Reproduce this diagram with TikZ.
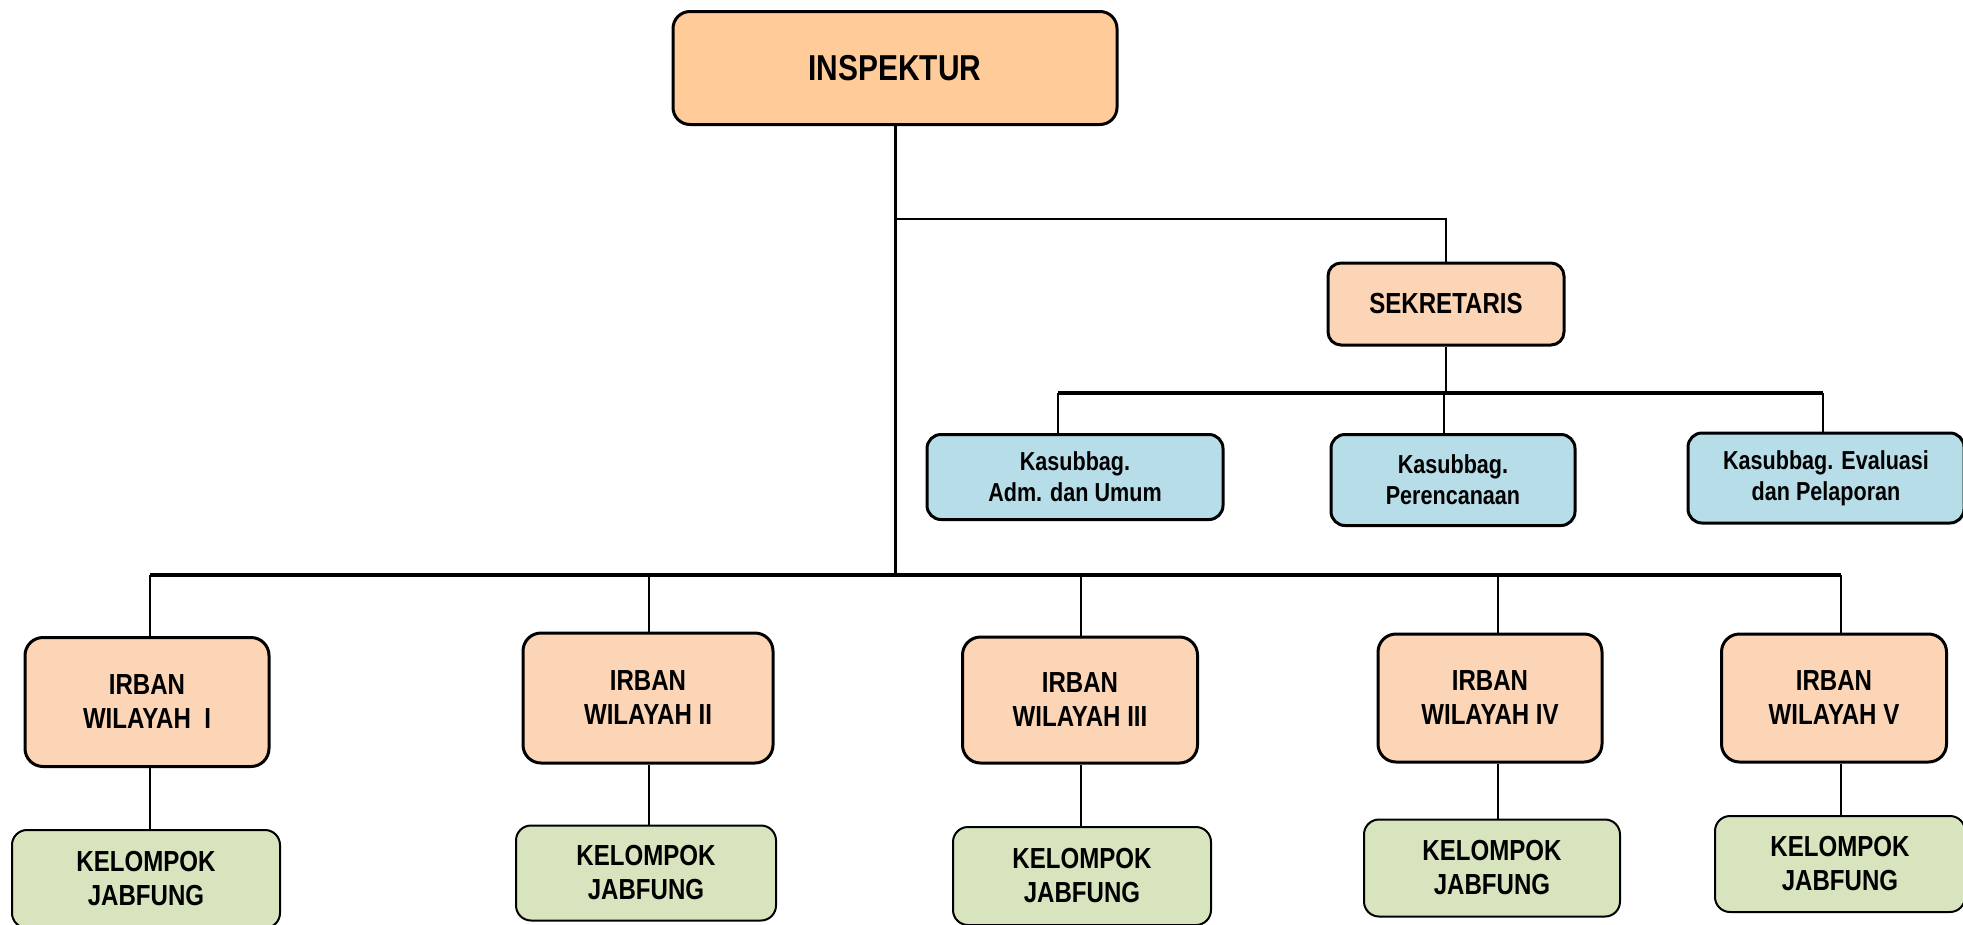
\documentclass[tikz,border=0pt]{standalone}
\usepackage{fontspec}
\setmainfont{Liberation Sans}[FakeStretch=0.83]
\usepackage{tikz}
\definecolor{inspfill}{HTML}{FFCC99}
\definecolor{unitfill}{HTML}{FBD5B5}
\definecolor{subfill}{HTML}{B7DDE8}
\definecolor{groupfill}{HTML}{D7E4BD}

\begin{document}
\begin{tikzpicture}
	[x=1pt,y=-1pt,align=center,
	box/.style={rectangle,draw,line width=3pt,inner sep=0pt},
	chief/.style={box,fill=inspfill,rounded corners=17pt,font=\bfseries\fontsize{36}{40}\selectfont},
	unit/.style={box,fill=unitfill,rounded corners=18pt,font=\bfseries\fontsize{29}{34}\selectfont},
	sub/.style={box,fill=subfill,rounded corners=14pt,font=\bfseries\fontsize{26}{31}\selectfont},
	group/.style={box,fill=groupfill,rounded corners=15pt,line width=2pt,font=\bfseries\fontsize{29}{34}\selectfont},
	trunk/.style={line width=3pt},branch/.style={line width=1.4pt}]
	\path[use as bounding box,fill=white] (0,0) rectangle (1963,924);
	\clip (0,0) rectangle (1963,924);
	\node[chief,minimum width=444pt,minimum height=113pt] (insp) at (895,68) {INSPEKTUR};
	\node[unit,rounded corners=13pt,minimum width=236pt,minimum height=82pt] (sek) at (1446,304) {SEKRETARIS};
	\node[sub,minimum width=296pt,minimum height=85pt] (kas1) at (1075,477) {Kasubbag.\\Adm. dan Umum};
	\node[sub,minimum width=244pt,minimum height=91pt] (kas2) at (1453,480) {Kasubbag.\\Perencanaan};
	\node[sub,minimum width=276pt,minimum height=90pt] (kas3) at (1826,478) {Kasubbag. Evaluasi\\dan Pelaporan};
	\node[unit,minimum width=244pt,minimum height=129pt] (irb1) at (147,702) {IRBAN\\WILAYAH~ I};
	\node[unit,minimum width=250pt,minimum height=130pt] (irb2) at (648,698) {IRBAN\\WILAYAH II};
	\node[unit,minimum width=235pt,minimum height=126pt] (irb3) at (1080,700) {IRBAN\\WILAYAH III};
	\node[unit,minimum width=224pt,minimum height=128pt] (irb4) at (1490,698) {IRBAN\\WILAYAH IV};
	\node[unit,minimum width=225pt,minimum height=128pt] (irb5) at (1834,698) {IRBAN\\WILAYAH V};
	\node[group,minimum width=268pt,minimum height=98pt] (kel1) at (146,879) {KELOMPOK\\JABFUNG};
	\node[group,minimum width=260pt,minimum height=95pt] (kel2) at (646,873) {KELOMPOK\\JABFUNG};
	\node[group,minimum width=258pt,minimum height=98pt] (kel3) at (1082,876) {KELOMPOK\\JABFUNG};
	\node[group,minimum width=256pt,minimum height=97pt] (kel4) at (1492,868) {KELOMPOK\\JABFUNG};
	\node[group,minimum width=250pt,minimum height=96pt] (kel5) at (1840,864) {KELOMPOK\\JABFUNG};
	\coordinate (sekbranch) at (0,219);
	\coordinate (midbar) at (0,393);
	\coordinate (lowbar) at (0,575);
	\foreach \k/\dx in {kas1/-17,kas2/-9,kas3/-3}
		\coordinate (\k top) at ([xshift=\dx pt]\k.north);
	\foreach \i/\dx in {1/3,2/1,3/1,4/8,5/7} {
		\coordinate (irb\i top) at ([xshift=\dx pt]irb\i.north);
		\coordinate (irb\i foot) at ([xshift=\dx pt]irb\i.south);
	}
	\draw [trunk] (insp.south) -- (insp.south |- lowbar);
	\draw [line width=2pt] (insp.south |- sekbranch) -| (sek.north);
	\draw [branch] (sek.south) -- (sek.south |- midbar);
	\draw [line width=3.5pt] (midbar -| kas1top) -- (midbar -| kas3top);
	\foreach \k in {kas1,kas2,kas3}
		\draw [branch] (midbar -| \k top) -- (\k top);
	\draw [line width=3.5pt] (lowbar -| irb1top) -- (lowbar -| irb5top);
	\foreach \i in {1,...,5} {
		\draw [branch] (lowbar -| irb\i top) -- (irb\i top);
		\draw [branch] (irb\i foot) -- (irb\i foot |- kel\i.north);
	}
\end{tikzpicture}
\end{document}
